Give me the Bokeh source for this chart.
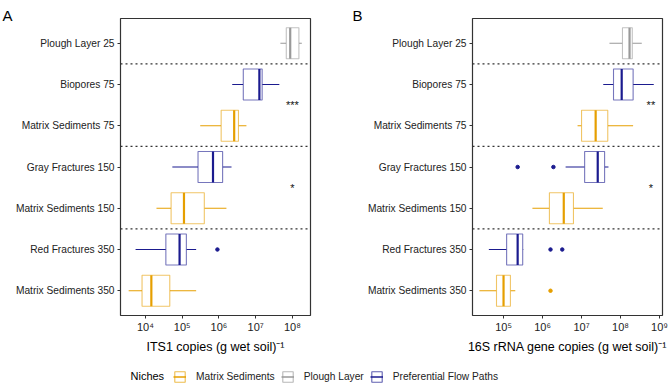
from bokeh.plotting import figure
from bokeh.layouts import column, row
from bokeh.models import (ColumnDataSource, Range1d, FactorRange, FixedTicker,
                          Span, Label, Legend, LegendItem)
from bokeh.core.properties import value
from bokeh.embed import file_html
from bokeh.resources import INLINE

FONT = "Liberation Sans"

# ---------------- data ----------------
categories = ["Plough Layer 25", "Biopores 75", "Matrix Sediments 75",
              "Gray Fractures 150", "Matrix Sediments 150",
              "Red Fractures 350", "Matrix Sediments 350"]
niches = ["Plough Layer", "Preferential Flow Paths", "Matrix Sediments",
          "Preferential Flow Paths", "Matrix Sediments",
          "Preferential Flow Paths", "Matrix Sediments"]
niche_names = ["Matrix Sediments", "Plough Layer", "Preferential Flow Paths"]
niche_colors = ["#E69F00", "#999999", "#1B1B8F"]

# ITS1 copies (g wet soil)^-1
its_lower = [4.7e7, 2.3e6, 3.1e5, 5.4e4, 2.0e4, 5.4e3, 3.5e3]
its_q1 = [6.8e7, 4.6e6, 1.15e6, 2.7e5, 5.0e4, 3.6e4, 8.1e3]
its_median = [8.7e7, 1.26e7, 2.6e6, 6.9e5, 1.12e5, 8.5e4, 1.45e4]
its_q3 = [1.5e8, 1.5e7, 3.4e6, 1.26e6, 4.0e5, 1.3e5, 4.6e4]
its_upper = [1.8e8, 4.4e7, 5.6e6, 2.2e6, 1.6e6, 2.4e5, 2.4e5]
its_outlier_cat = ["Red Fractures 350"]
its_outlier_val = [9.1e5]
its_sig_text = ["***", "*"]
its_sig_below = ["Biopores 75", "Gray Fractures 150"]
its_sig_x = [1.0e8, 1.0e8]

# 16S rRNA gene copies (g wet soil)^-1
s16_lower = [5.2e7, 3.6e7, 7.9e6, 3.9e6, 5.5e5, 4.2e4, 2.4e4]
s16_q1 = [1.12e8, 6.6e7, 1.0e7, 1.2e7, 1.5e6, 1.2e5, 6.6e4]
s16_median = [1.7e8, 1.07e8, 2.3e7, 2.6e7, 3.5e6, 2.3e5, 1.0e5]
s16_q3 = [2.0e8, 2.1e8, 4.7e7, 3.9e7, 6.2e6, 3.1e5, 1.5e5]
s16_upper = [3.5e8, 7.1e8, 2.1e8, 4.9e7, 3.5e7, 3.2e5, 2.0e5]
s16_outlier_cat = ["Gray Fractures 150", "Gray Fractures 150",
                   "Red Fractures 350", "Red Fractures 350",
                   "Matrix Sediments 350"]
s16_outlier_val = [2.3e5, 1.9e6, 1.6e6, 3.2e6, 1.6e6]
s16_sig_text = ["**", "*"]
s16_sig_below = ["Biopores 75", "Gray Fractures 150"]
s16_sig_x = [6.0e8, 6.0e8]

separators_below = ["Plough Layer 25", "Matrix Sediments 75", "Matrix Sediments 150"]

its_ticks = [1e4, 1e5, 1e6, 1e7, 1e8]
s16_ticks = [1e5, 1e6, 1e7, 1e8, 1e9]
SUP = str.maketrans("0123456789-", "⁰¹²³⁴⁵⁶⁷⁸⁹⁻")

color_of = dict(zip(niche_names, niche_colors))
factors_bottom_up = categories[::-1]


def pos_below(cat):
    # synthetic coordinate of the boundary just below a category
    return float(factors_bottom_up.index(cat))


def panel(letter, letter_x, xlabel, xr, ticks, lower, q1, med, q3, upper,
          out_cat, out_val, sig_text, sig_below, sig_x,
          width, left_border, right_border):
    p = figure(width=width, height=360, x_axis_type="log",
               x_range=Range1d(*xr),
               y_range=FactorRange(factors=factors_bottom_up, range_padding=0.1,
                                   range_padding_units="absolute"),
               output_backend="svg", toolbar_location=None,
               min_border_left=left_border, min_border_right=right_border,
               min_border_top=18, min_border_bottom=45)
    cols = [color_of[n] for n in niches]
    src = ColumnDataSource(dict(cat=categories, lower=lower, q1=q1, med=med,
                                q3=q3, upper=upper, color=cols))
    p.segment(x0="lower", x1="q1", y0="cat", y1="cat", line_color="color",
              line_width=1.1, source=src)
    p.segment(x0="q3", x1="upper", y0="cat", y1="cat", line_color="color",
              line_width=1.1, source=src)
    p.hbar(y="cat", left="q1", right="q3", height=0.75, fill_color="white",
           line_color="color", line_alpha=0.6, line_width=1.1, source=src)
    p.hbar(y="cat", left="med", right="med", height=0.75, fill_alpha=0,
           line_color="color", line_width=2.2, source=src)
    ocols = [color_of[niches[categories.index(c)]] for c in out_cat]
    p.scatter(x=out_val, y=out_cat, size=3.5, color=ocols)
    for c in separators_below:
        p.add_layout(Span(location=pos_below(c), dimension="width",
                          line_color="#333333", line_width=1.1,
                          line_dash="2 3"))
    p.text(x=sig_x, y=[pos_below(c) for c in sig_below], text=sig_text,
           text_align="center", text_baseline="middle",
           text_font=value(FONT), text_font_size="11px", text_color="#111111")

    p.xgrid.visible = False
    p.ygrid.visible = False
    p.outline_line_color = "#333333"
    p.outline_line_width = 1.2
    for ax in (p.xaxis[0], p.yaxis[0]):
        ax.axis_line_color = None
        ax.major_tick_line_color = "#333333"
        ax.major_tick_in = 0
        ax.major_tick_out = 3
        ax.minor_tick_line_color = None
        ax.major_label_text_font = FONT
        ax.major_label_text_color = "#222222"
    p.yaxis.major_label_text_font_size = "10.2px"
    p.yaxis.major_label_standoff = 3
    p.xaxis.ticker = FixedTicker(ticks=ticks)
    p.xaxis.major_label_overrides = {
        t: "10" + str(len(str(int(t))) - 1).translate(SUP) for t in ticks}
    p.xaxis.major_label_text_font_size = "11px"
    p.xaxis.major_label_standoff = 2
    p.xaxis.axis_label = xlabel
    p.xaxis.axis_label_text_font = FONT
    p.xaxis.axis_label_text_font_style = "normal"
    p.xaxis.axis_label_text_font_size = "12.5px"
    p.xaxis.axis_label_text_color = "#000000"
    p.xaxis.axis_label_standoff = 4

    # panel letter as the plot title, pulled to the left edge of the canvas
    p.title.text = letter
    p.title.align = "left"
    p.title.offset = letter_x - left_border
    p.title.standoff = -11
    p.title.text_font = FONT
    p.title.text_font_size = "15px"
    p.title.text_font_style = "normal"
    p.title.text_color = "#000000"
    return p


pA = panel("A", 2, "ITS1 copies (g wet soil)" + "-1".translate(SUP),
           (2.1e3, 3.1e8), its_ticks, its_lower, its_q1, its_median, its_q3,
           its_upper, its_outlier_cat, its_outlier_val, its_sig_text,
           its_sig_below, its_sig_x, 330, 120, 20)
pB = panel("B", 22, "16S rRNA gene copies (g wet soil)" + "-1".translate(SUP),
           (1.6e4, 1.19e9), s16_ticks, s16_lower, s16_q1, s16_median, s16_q3,
           s16_upper, s16_outlier_cat, s16_outlier_val, s16_sig_text,
           s16_sig_below, s16_sig_x, 339, 142, 7)

# ---------------- legend strip ----------------
pL = figure(width=669, height=24, x_range=Range1d(0, 669), y_range=Range1d(0, 24),
            output_backend="svg", toolbar_location=None, min_border=0)
pL.axis.visible = False
pL.grid.visible = False
pL.outline_line_color = None
items = []
for name, col in zip(niche_names, niche_colors):
    # dummy renderers placed outside the visible range, only used for keys
    r1 = pL.rect(x=[-1000], y=[-1000], width=1, height=1, fill_color="white",
                 line_color=col, line_alpha=0.7, line_width=1.1)
    r2 = pL.line(x=[-1000, -999], y=[-1000, -1000], line_color=col, line_width=1.5)
    items.append(LegendItem(label=name, renderers=[r1, r2]))
leg = Legend(items=items, orientation="horizontal", location=(173, 1),
             padding=2, margin=0, spacing=6, label_standoff=10,
             glyph_width=13, glyph_height=13,
             label_text_font=FONT, label_text_font_size="10.2px",
             label_text_color="#222222",
             background_fill_alpha=0, border_line_color=None)
pL.add_layout(leg)
pL.add_layout(Label(x=130, y=9, text="Niches", text_font=FONT,
                    text_font_size="11px", text_baseline="middle",
                    text_color="#000000"))

layout = column(row(pA, pB), pL)
open("out.html", "w").write(file_html(layout, INLINE))
